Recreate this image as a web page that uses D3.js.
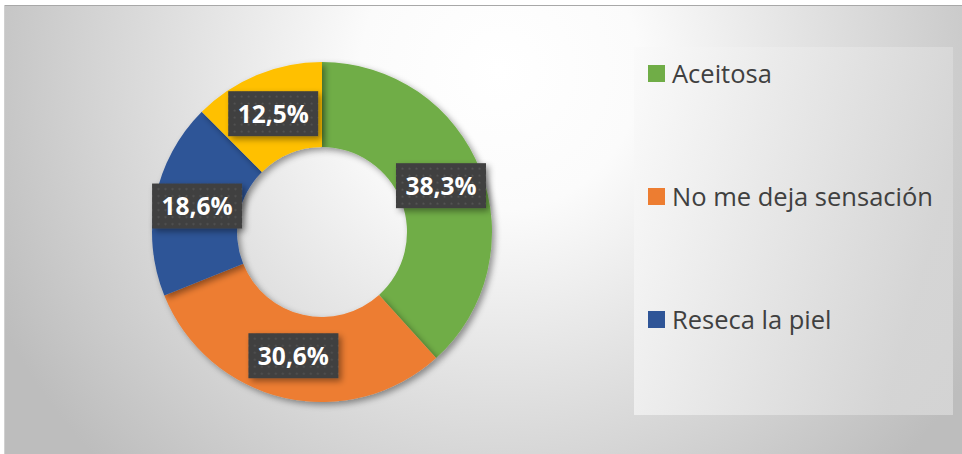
<!DOCTYPE html>
<html><head><meta charset="utf-8">
<script src="https://cdn.jsdelivr.net/npm/d3@7"></script>
<style>html,body{margin:0;padding:0;background:#fff;}svg{display:block;}</style>
</head><body>
<svg id="chart" width="962" height="454"></svg>
<script>
const categories = ["Aceitosa", "No me deja sensación", "Reseca la piel", ""];
const values = [38.3, 30.6, 18.6, 12.5];
const valueLabels = ["38,3%", "30,6%", "18,6%", "12,5%"];
const colors = ["#70AD47", "#ED7D31", "#2F5597", "#FFC000"];

const W = 962, H = 454;
const svg = d3.select("#chart");
const defs = svg.append("defs");

const bg = defs.append("radialGradient").attr("id","bg")
  .attr("gradientUnits","userSpaceOnUse").attr("cx",500).attr("cy",70).attr("r",560);
bg.append("stop").attr("offset","0").attr("stop-color","#ffffff");
bg.append("stop").attr("offset","0.25").attr("stop-color","#fbfbfb");
bg.append("stop").attr("offset","1").attr("stop-color","#bdbdbd");

const lg = defs.append("linearGradient").attr("id","lg")
  .attr("x1","0").attr("y1","0").attr("x2","1").attr("y2","0.3");
lg.append("stop").attr("offset","0").attr("stop-color","#fafafa");
lg.append("stop").attr("offset","1").attr("stop-color","#d6d6d6");

const sh = defs.append("filter").attr("id","shadow").attr("x","-20%").attr("y","-20%").attr("width","150%").attr("height","150%");
sh.append("feDropShadow").attr("dx",3).attr("dy",3).attr("stdDeviation",3).attr("flood-color","#000").attr("flood-opacity",0.4);

const pat = defs.append("pattern").attr("id","dots").attr("patternUnits","userSpaceOnUse").attr("width",7).attr("height",7);
pat.append("rect").attr("width",7).attr("height",7).attr("fill","#3f3f3f");
pat.append("circle").attr("cx",3.5).attr("cy",3.5).attr("r",1.1).attr("fill","#555");

defs.append("clipPath").attr("id","legclip").append("rect")
  .attr("x",634).attr("y",47).attr("width",319).attr("height",368);

// chart area
svg.append("rect").attr("x",4).attr("y",5).attr("width",W-4).attr("height",H-5).attr("fill","url(#bg)");
svg.append("line").attr("x1",4).attr("x2",W).attr("y1",5.5).attr("y2",5.5).attr("stroke","#a8a8a8").attr("stroke-width",1);
svg.append("line").attr("x1",4.5).attr("x2",4.5).attr("y1",5).attr("y2",H).attr("stroke","#d0d0d0").attr("stroke-width",1);

// donut
const cx = 322, cy = 232, R = 170, r = 85;
const pie = d3.pie().sort(null).value(d => d)(values);
const arc = d3.arc().innerRadius(r).outerRadius(R);
const g = svg.append("g").attr("transform",`translate(${cx},${cy})`);
g.selectAll("path").data(pie).join("path")
  .attr("d",arc).attr("fill",(d,i)=>colors[i]).attr("filter","url(#shadow)");

// labels
const labArc = d3.arc().innerRadius((r+R)/2).outerRadius((r+R)/2);
const lab = g.selectAll("g.lab").data(pie).join("g").attr("class","lab")
  .attr("transform",d=>{const c=labArc.centroid(d);return `translate(${c[0]},${c[1]})`;});
lab.append("rect").attr("x",-45).attr("y",-23).attr("width",90).attr("height",45)
  .attr("fill","url(#dots)").attr("filter","url(#shadow)");
lab.append("text").text((d,i)=>valueLabels[i])
  .attr("text-anchor","middle").attr("dy","0.36em")
  .attr("font-family","'Open Sans', sans-serif").attr("font-weight","bold").attr("font-size",24.5)
  .attr("fill","#fff");

// legend
svg.append("rect").attr("x",634).attr("y",47).attr("width",319).attr("height",368).attr("fill","url(#lg)").attr("opacity",0.9);
const leg = svg.append("g").attr("clip-path","url(#legclip)");
const legY = d3.scalePoint().domain(d3.range(categories.length)).range([74, 443]);
const items = leg.selectAll("g").data(categories).join("g")
  .attr("transform",(d,i)=>`translate(648,${legY(i)})`);
items.append("rect").attr("x",0).attr("y",-9).attr("width",17).attr("height",17).attr("fill",(d,i)=>colors[i]);
items.append("text").text(d=>d).attr("x",24).attr("dy","0.36em")
  .attr("font-family","'Open Sans', sans-serif").attr("font-size",25.5).attr("fill","#404040");
</script>
</body></html>
